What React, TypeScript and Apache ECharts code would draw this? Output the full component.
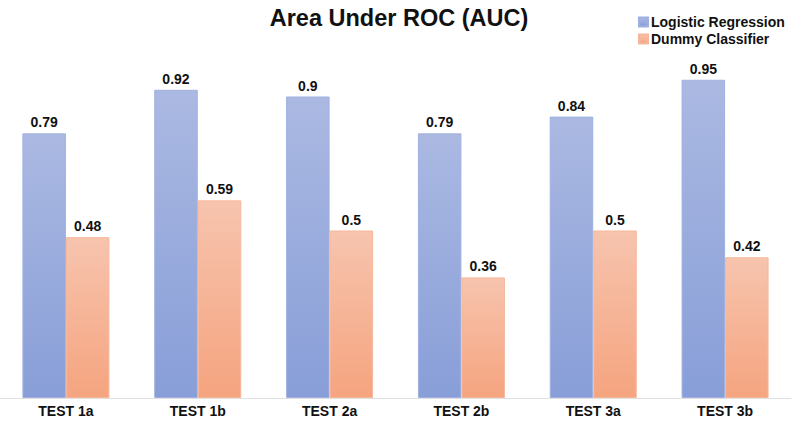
import React, { useEffect, useRef } from "react";
import * as echarts from "echarts";

const categories = ["TEST 1a", "TEST 1b", "TEST 2a", "TEST 2b", "TEST 3a", "TEST 3b"];
const logisticValues = [0.79, 0.92, 0.9, 0.79, 0.84, 0.95];
const dummyValues = [0.48, 0.59, 0.5, 0.36, 0.5, 0.42];
const seriesNames = ["Logistic Regression", "Dummy Classifier"];

const FONT = "Liberation Sans";

export default function App() {
  const ref = useRef<HTMLDivElement>(null);
  useEffect(() => {
    if (!ref.current) return;
    const chart = echarts.init(ref.current, null, { renderer: "svg" });
    const label = {
      show: true,
      position: "top",
      distance: 4,
      color: "#111",
      fontFamily: FONT,
      fontWeight: "bold",
      fontSize: 14,
    };
    chart.setOption({
      animation: false,
      backgroundColor: "#fff",
      title: {
        text: "Area Under ROC (AUC)",
        left: 394,
        textAlign: "center",
        top: 1,
        textStyle: { fontFamily: FONT, fontWeight: "bold", fontSize: 23.5, color: "#111" },
      },
      legend: {
        orient: "vertical",
        left: 638,
        top: 15,
        padding: 0,
        itemWidth: 9,
        itemHeight: 9,
        itemGap: 3,
        icon: "rect",
        textStyle: { fontFamily: FONT, fontWeight: "bold", fontSize: 14, color: "#111", padding: [0, 0, 0, -2] },
        data: seriesNames,
      },
      grid: { left: 0, right: 1, top: 63, bottom: 24 },
      xAxis: {
        type: "category",
        data: categories,
        axisTick: { show: false },
        axisLine: { lineStyle: { color: "#e0e0e0", width: 1 } },
        axisLabel: { color: "#111", fontFamily: FONT, fontWeight: "bold", fontSize: 14, margin: 6 },
      },
      yAxis: { type: "value", min: 0, max: 1, show: false, splitLine: { show: false } },
      series: [
        {
          name: seriesNames[0],
          type: "bar",
          data: logisticValues,
          barGap: "0%",
          barCategoryGap: "34%",
          label,
          itemStyle: {
            color: new echarts.graphic.LinearGradient(0, 0, 0, 1, [
              { offset: 0, color: "#abb9e2" },
              { offset: 1, color: "#889ed8" },
            ]),
            borderColor: "#9fb0e0",
            borderWidth: 1,
          },
        },
        {
          name: seriesNames[1],
          type: "bar",
          data: dummyValues,
          barGap: "0%",
          barCategoryGap: "34%",
          label,
          itemStyle: {
            color: new echarts.graphic.LinearGradient(0, 0, 0, 1, [
              { offset: 0, color: "#f7c4ae" },
              { offset: 1, color: "#f5a47f" },
            ]),
            borderColor: "#f5b79b",
            borderWidth: 1,
          },
        },
      ],
    });
    return () => chart.dispose();
  }, []);
  return <div ref={ref} style={{ width: 792, height: 422, position: "absolute", left: 0, top: 0 }} />;
}
